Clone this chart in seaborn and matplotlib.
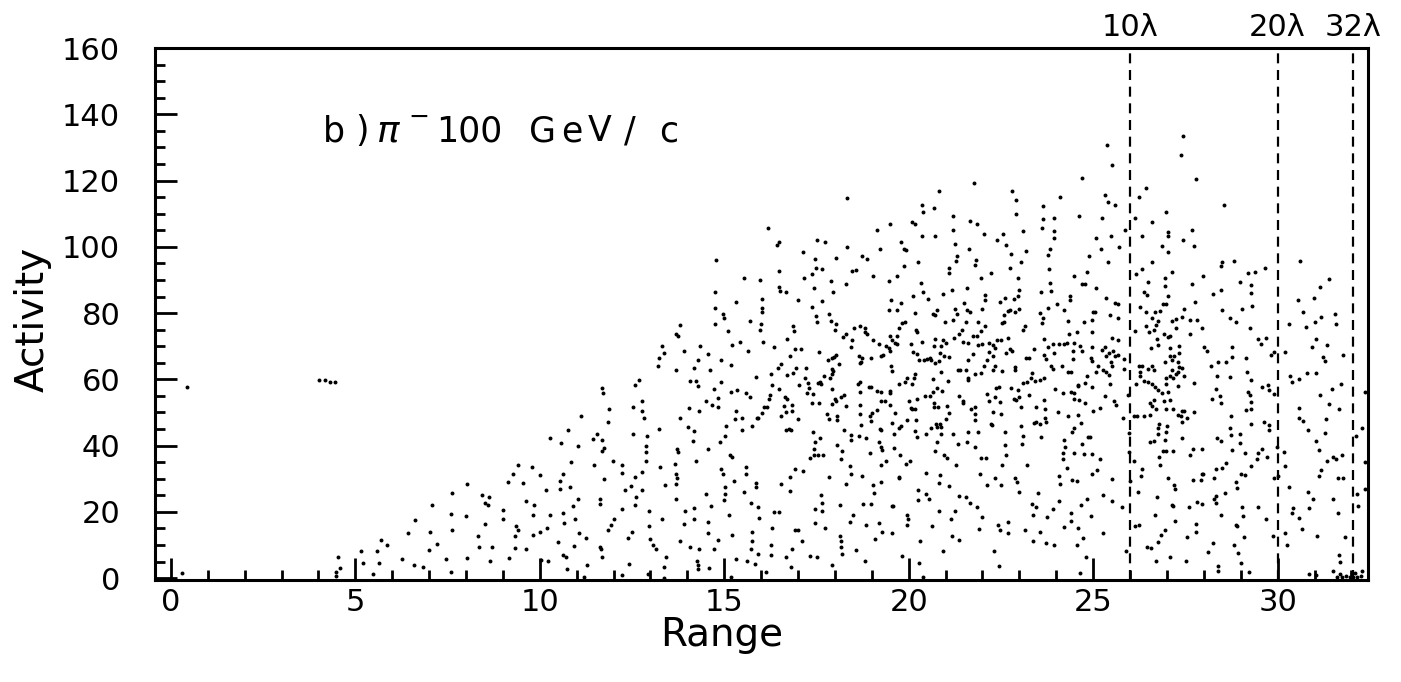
import numpy as np
import pandas as pd
import matplotlib
matplotlib.use("Agg")
import matplotlib.pyplot as plt
from matplotlib.ticker import MultipleLocator
import seaborn as sns

sns.set_theme(style="white")
plt.rcParams["font.family"] = ["DejaVu Sans"]
plt.rcParams["mathtext.fontset"] = "dejavusans"
plt.rcParams["text.color"] = "black"
plt.rcParams["axes.labelcolor"] = "black"
plt.rcParams["xtick.color"] = "black"
plt.rcParams["ytick.color"] = "black"

# (Range, Activity) pairs, band by band
pts_0_8 = [
    (0.44, 57.6), (0.31, 1.7), (4.01, 59.9), (4.19, 59.9), (4.31, 59.3), (4.44, 59.3),
    (4.53, 6.3), (4.58, 3.2), (4.48, 2.0), (4.48, 0.7), (5.16, 8.2), (5.2, 4.7),
    (5.48, 1.2), (5.58, 8.2), (5.7, 11.5), (5.85, 9.9), (5.63, 4.7), (6.26, 5.8),
    (6.44, 13.6), (6.62, 17.5), (6.59, 3.9), (6.84, 3.3), (6.99, 8.5), (7.08, 22.1),
    (7.02, 13.9), (7.22, 10.2), (7.45, 5.7), (7.63, 25.8), (7.6, 19.3), (7.63, 14.6),
    (7.6, 1.8),
]

pts_8_15 = [
    (8.02, 28.5), (8.0, 18.8), (8.02, 6.0), (8.44, 25.0), (8.51, 22.6), (8.6, 22.0),
    (8.62, 24.6), (8.51, 16.4), (8.33, 12.8), (8.35, 9.5), (8.71, 9.5), (8.65, 5.1),
    (9.01, 20.6), (9.01, 17.8), (9.14, 28.9), (9.28, 31.5), (9.41, 34.1), (9.79, 33.7),
    (9.54, 28.7), (9.64, 23.4), (9.84, 22.2), (9.81, 19.0), (9.32, 12.8), (9.36, 15.6),
    (9.41, 14.6), (9.32, 9.1), (9.17, 6.1), (9.64, 8.9), (9.82, 12.9), (10.0, 31.1),
    (10.0, 13.8), (10.17, 26.6), (10.28, 42.4), (10.28, 19.0), (10.2, 15.2), (10.22, 5.3),
    (10.02, 5.5), (10.58, 40.9), (10.62, 31.3), (10.55, 29.3), (10.55, 26.9), (10.62, 19.8),
    (10.67, 16.6), (10.49, 10.9), (10.64, 6.9), (10.71, 6.3), (10.73, 2.7), (10.76, 44.8),
    (10.82, 27.5), (10.89, 21.8), (10.96, 17.8), (10.94, 9.7), (10.84, 35.1), (11.03, 40.0),
    (11.03, 23.8), (11.07, 13.6), (11.12, 49.0), (11.25, 12.0), (11.29, 4.1), (11.21, 0.3),
    (11.43, 42.0), (11.56, 43.4), (11.48, 34.3), (11.63, 24.0), (11.63, 22.4), (11.7, 41.8),
    (11.68, 38.5), (11.74, 39.3), (11.74, 29.9), (11.7, 57.3), (11.72, 55.9), (11.63, 9.5),
    (11.66, 8.9), (11.7, 6.3), (11.88, 51.2), (11.85, 47.0), (11.86, 14.6), (11.94, 16.0),
    (11.99, 35.3), (12.02, 18.0), (12.22, 20.8), (12.24, 34.3), (12.24, 31.7), (12.3, 26.7),
    (12.46, 27.9), (12.49, 14.0), (12.39, 12.2), (12.42, 4.3), (12.22, 0.9), (12.53, 51.8),
    (12.53, 43.6), (12.59, 58.3), (12.59, 30.5), (12.57, 22.0), (12.62, 24.4), (12.69, 59.7),
    (12.78, 53.4), (12.78, 50.6), (12.82, 48.4), (12.87, 40.0), (12.87, 38.1), (12.91, 43.0),
    (12.89, 35.5), (12.78, 32.1), (12.76, 26.7), (12.96, 20.4), (12.95, 15.6), (13.0, 11.7),
    (13.07, 10.1), (13.14, 8.9), (12.93, 1.3), (13.22, 45.0), (13.22, 66.5), (13.2, 63.9),
    (13.27, 33.7), (13.32, 70.2), (13.38, 67.9), (13.32, 18.0), (13.4, 28.1), (13.43, 6.3),
    (13.36, 3.5), (13.36, 0.1), (13.69, 62.7), (13.7, 73.8), (13.74, 73.0), (13.81, 76.4),
    (13.79, 48.2), (13.67, 34.5), (13.69, 31.3), (13.72, 30.3), (13.69, 28.5), (13.69, 23.8),
    (13.72, 39.0), (13.76, 38.1), (13.79, 11.3), (13.9, 68.7), (13.94, 20.2), (13.9, 16.4),
    (14.06, 59.5), (14.05, 51.4), (14.03, 45.6), (14.08, 9.5), (14.17, 63.5), (14.19, 44.4),
    (14.15, 41.4), (14.17, 21.2), (14.19, 18.0), (14.23, 59.5), (14.24, 35.5), (14.28, 65.9),
    (14.32, 50.4), (14.3, 57.9), (14.35, 70.0), (14.32, 8.9), (14.26, 5.3), (14.3, 3.9),
    (14.3, 2.7), (14.5, 53.4), (14.5, 25.4), (14.55, 67.7), (14.55, 39.1), (14.57, 17.0),
    (14.57, 13.6), (14.59, 3.1),
]

pts_15_20 = [
    (16.18, 105.8), (16.48, 101.6), (16.43, 100.6), (17.51, 102.0), (17.73, 101.4), (17.13, 98.5),
    (14.79, 96.1), (15.53, 90.5), (15.98, 90.1), (16.48, 92.7), (16.48, 87.9), (16.5, 86.7),
    (16.68, 86.5), (17.47, 96.3), (17.49, 93.7), (17.37, 91.9), (17.65, 93.3), (17.15, 90.5),
    (17.44, 87.5), (17.01, 83.8), (18.03, 96.5), (18.32, 100.0), (18.74, 97.1), (18.88, 96.3),
    (19.15, 105.2), (19.48, 106.8), (19.22, 99.2), (18.47, 92.7), (18.56, 92.9), (19.03, 91.3),
    (18.3, 88.7), (17.89, 89.7), (17.94, 86.5), (17.64, 83.6), (17.38, 81.8), (17.49, 79.2),
    (17.51, 77.4), (17.85, 79.6), (17.89, 77.6), (18.02, 76.6), (18.0, 75.0), (14.75, 86.5),
    (14.75, 81.6), (14.75, 76.8), (14.97, 79.8), (15.0, 78.4), (15.31, 83.2), (16.03, 84.3),
    (16.03, 81.4), (16.03, 80.2), (15.99, 76.8), (15.71, 77.6), (15.96, 75.0), (15.11, 74.6),
    (15.2, 70.3), (15.42, 71.2), (15.65, 68.5), (16.05, 71.4), (16.34, 69.9), (16.7, 72.2),
    (16.86, 76.0), (16.88, 74.6), (16.93, 69.3), (17.08, 69.1), (16.79, 66.9), (17.56, 68.3),
    (17.91, 66.3), (17.98, 66.7), (18.03, 67.3), (17.82, 65.9), (18.11, 64.5), (18.23, 72.8),
    (18.29, 73.6), (18.52, 75.4), (18.67, 76.2), (18.81, 75.6), (18.81, 74.4), (19.04, 72.0),
    (18.86, 73.8), (18.47, 71.8), (18.43, 69.9), (18.65, 66.9), (18.68, 64.9), (18.7, 65.3),
    (18.74, 66.3), (18.97, 66.5), (19.26, 67.1), (19.31, 67.3), (19.19, 70.6), (19.39, 70.2),
    (19.48, 73.2), (19.55, 72.0), (19.5, 68.7), (19.64, 71.0), (19.69, 73.0), (19.69, 70.8),
    (14.91, 65.7), (14.61, 62.9), (15.17, 64.3), (14.73, 57.1), (14.91, 59.1), (14.66, 52.4),
    (14.84, 54.4), (14.82, 51.8), (15.17, 56.3), (15.35, 56.7), (15.6, 56.0), (15.71, 54.8),
    (15.87, 60.7), (15.31, 50.6), (15.49, 48.4), (15.29, 48.0), (15.06, 45.8), (15.47, 44.8),
    (15.74, 45.8), (15.89, 48.4), (15.92, 48.2), (16.01, 49.8), (16.07, 51.6), (16.16, 51.6),
    (16.21, 54.0), (16.27, 61.7), (16.23, 55.4), (16.3, 58.3), (16.48, 57.0), (16.45, 63.3),
    (16.55, 64.5), (16.7, 61.3), (16.86, 61.9), (16.95, 63.5), (17.22, 63.3), (16.66, 54.6),
    (16.7, 54.2), (16.63, 52.0), (16.84, 52.2), (16.68, 50.2), (16.84, 50.6), (16.99, 48.0),
    (16.54, 49.0), (16.75, 45.0), (16.82, 44.6), (16.68, 44.8), (17.04, 58.3), (17.19, 60.3),
    (17.26, 58.9), (17.29, 57.3), (17.24, 55.9), (17.4, 55.6), (17.55, 58.9), (17.6, 59.1),
    (17.62, 58.7), (17.71, 60.9), (17.91, 61.7), (17.93, 63.1), (17.94, 62.5), (17.87, 60.3),
    (17.93, 57.1), (17.38, 52.8), (17.58, 53.0), (17.93, 52.6), (18.0, 54.0), (18.03, 53.4),
    (18.16, 54.8), (18.25, 55.4), (17.78, 49.4), (17.85, 48.0), (18.05, 49.0), (18.05, 47.8),
    (18.3, 52.0), (18.63, 58.7), (18.68, 59.3), (18.67, 56.1), (18.68, 52.2), (18.67, 49.4),
    (18.7, 46.2), (18.92, 57.7), (18.97, 57.7), (19.13, 56.5), (19.26, 56.1), (19.48, 56.5),
    (19.5, 55.9), (19.26, 53.4), (19.37, 53.6), (19.48, 52.4), (19.15, 50.8), (19.01, 49.8),
    (18.95, 48.8), (18.97, 47.4), (19.21, 45.0), (19.24, 44.6), (19.64, 49.8), (19.73, 45.4),
    (19.55, 46.8), (18.25, 44.8), (18.43, 43.2), (18.43, 41.8), (18.65, 42.8), (18.83, 42.4),
    (19.19, 41.2), (19.24, 39.7), (19.28, 38.7), (19.59, 39.3), (19.39, 35.5), (19.26, 34.1),
    (19.03, 28.0), (19.06, 25.6), (18.99, 22.4), (19.24, 29.1), (19.57, 21.8), (19.73, 30.3),
    (19.55, 13.5), (19.28, 13.9), (19.19, 16.6), (19.1, 11.8), (18.83, 16.0), (18.76, 22.4),
    (18.74, 30.9), (18.43, 31.5), (18.41, 33.9), (18.29, 28.3), (18.5, 19.0), (18.41, 17.0),
    (18.56, 8.5), (18.81, 5.1), (18.95, 37.7), (18.2, 38.5), (18.16, 35.9), (18.05, 40.1),
    (17.85, 30.5), (18.14, 22.2), (18.14, 12.8), (18.16, 11.3), (18.16, 9.5), (18.18, 7.3),
    (17.91, 4.1), (17.74, 15.0), (17.62, 25.0), (17.64, 22.8), (17.64, 20.4), (17.47, 21.0),
    (17.47, 16.8), (17.51, 6.3), (17.33, 6.7), (17.6, 42.2), (17.47, 41.2), (17.42, 39.1),
    (17.42, 37.3), (17.33, 36.3), (17.53, 37.1), (17.67, 37.1), (17.4, 44.2), (17.13, 32.3),
    (16.91, 32.9), (16.77, 30.5), (16.77, 26.4), (17.1, 11.1), (16.93, 14.6), (16.99, 14.4),
    (16.84, 8.9), (16.68, 6.3), (16.81, 3.3), (16.55, 28.5), (16.3, 15.0), (16.27, 10.1),
    (16.34, 20.0), (16.48, 20.0), (15.94, 18.2), (15.92, 21.4), (15.72, 22.8), (15.85, 28.7),
    (15.85, 27.5), (15.54, 26.0), (15.58, 33.5), (15.58, 31.3), (15.26, 29.3), (15.02, 27.5),
    (15.02, 25.4), (15.0, 23.6), (14.91, 32.9), (14.97, 31.5), (15.2, 36.7), (15.15, 37.3),
    (15.02, 43.0), (14.88, 41.2), (14.64, 21.8), (15.13, 19.0), (15.2, 13.0), (14.84, 11.5),
    (14.71, 8.7), (15.74, 13.8), (15.76, 11.3), (15.72, 8.9), (15.31, 5.7), (15.62, 5.3),
    (15.92, 7.3), (15.83, 4.3), (16.14, 1.9), (15.18, 0.5), (16.27, 6.9), (18.32, 114.7),
]

pts_20_25 = [
    (21.77, 119.3), (20.83, 116.9), (20.36, 112.5), (20.4, 110.4), (20.69, 111.8), (20.09, 107.6),
    (20.18, 107.0), (21.21, 109.2), (21.66, 107.8), (21.84, 106.8), (20.36, 103.4), (20.72, 103.2),
    (21.21, 105.0), (19.78, 101.6), (19.87, 99.4), (19.93, 99.0), (20.25, 95.5), (19.87, 94.1),
    (19.68, 91.1), (19.46, 89.7), (21.26, 101.0), (21.64, 99.2), (22.04, 104.0), (22.38, 102.0),
    (22.56, 103.8), (22.65, 100.6), (22.8, 116.7), (22.92, 114.1), (22.92, 110.0), (23.1, 104.8),
    (23.63, 112.3), (23.63, 108.4), (23.61, 105.8), (23.95, 108.8), (23.93, 104.8), (23.93, 102.6),
    (24.1, 115.1), (24.69, 120.7), (24.62, 109.4), (23.82, 99.4), (23.77, 97.5), (23.79, 93.3),
    (23.82, 89.1), (23.86, 86.7), (23.19, 98.8), (23.05, 95.3), (22.76, 97.7), (22.74, 93.7),
    (22.96, 90.5), (23.0, 87.1), (21.82, 95.9), (21.8, 94.5), (21.3, 97.1), (21.28, 95.7),
    (21.1, 93.7), (21.08, 92.1), (21.17, 86.9), (21.57, 87.7), (21.95, 90.5), (22.24, 92.1),
    (20.34, 89.1), (20.4, 86.5), (20.11, 85.1), (20.52, 84.3), (20.92, 85.7), (22.06, 85.5),
    (22.06, 84.1), (22.6, 84.6), (22.47, 83.2), (22.85, 84.3), (22.96, 85.3), (23.59, 86.3),
    (24.38, 85.3), (24.37, 83.9), (24.47, 91.1), (24.69, 88.7), (24.84, 92.3), (19.53, 84.1),
    (19.68, 80.8), (19.78, 83.0), (19.46, 81.0), (20.18, 80.0), (20.65, 79.6), (20.72, 79.4),
    (20.78, 81.0), (20.99, 77.4), (21.19, 77.8), (21.26, 81.2), (21.3, 79.6), (21.5, 83.0),
    (21.57, 80.8), (21.66, 80.4), (21.55, 77.4), (21.89, 77.4), (22.06, 76.0), (21.95, 74.6),
    (21.99, 81.2), (22.58, 79.4), (22.69, 80.6), (22.74, 81.0), (22.87, 80.4), (23.0, 81.2),
    (22.58, 77.4), (22.54, 77.0), (23.14, 76.0), (23.1, 74.8), (23.55, 80.0), (23.63, 78.4),
    (23.61, 77.0), (23.77, 81.4), (24.01, 82.6), (24.2, 80.8), (24.33, 77.6), (24.75, 77.4),
    (24.78, 88.9), (19.82, 77.0), (19.89, 77.2), (20.2, 75.0), (20.22, 74.4), (19.73, 75.4),
    (20.05, 70.6), (20.11, 68.3), (20.22, 67.7), (20.36, 71.2), (20.42, 65.9), (20.27, 65.7),
    (20.49, 66.1), (20.58, 66.3), (20.61, 65.7), (20.72, 72.2), (20.69, 70.0), (20.88, 70.2),
    (20.85, 68.1), (20.92, 71.8), (21.01, 71.0), (20.96, 66.9), (21.1, 66.7), (20.72, 64.9),
    (20.81, 65.5), (21.23, 72.4), (21.35, 73.8), (21.44, 75.0), (21.48, 71.2), (21.61, 71.0),
    (21.75, 73.0), (21.86, 73.0), (21.88, 70.4), (22.0, 70.6), (22.17, 71.0), (22.29, 70.4),
    (22.33, 69.6), (22.17, 68.3), (22.29, 67.1), (22.13, 65.7), (22.33, 64.1), (22.04, 64.1),
    (21.97, 61.9), (21.79, 61.5), (21.61, 65.9), (21.73, 67.7), (21.55, 62.9), (21.39, 62.7),
    (21.34, 62.7), (21.61, 60.3), (21.62, 59.7), (22.38, 72.0), (22.51, 72.0), (22.69, 72.4),
    (22.65, 67.9), (22.74, 69.3), (22.8, 68.5), (23.18, 66.3), (23.25, 66.3), (23.39, 69.1),
    (23.34, 61.9), (22.87, 63.7), (22.89, 62.7), (22.54, 62.5), (22.76, 57.3), (22.96, 56.7),
    (23.09, 58.9), (23.21, 59.1), (23.32, 60.3), (22.44, 57.7), (22.29, 62.9), (23.66, 72.2),
    (23.66, 67.5), (23.73, 66.1), (23.77, 69.9), (23.92, 70.6), (23.93, 67.9), (24.08, 70.6),
    (24.2, 70.6), (24.28, 71.0), (24.35, 73.8), (24.47, 71.0), (24.46, 68.5), (24.46, 66.1),
    (24.69, 68.5), (24.64, 70.0), (24.57, 74.2), (23.86, 64.1), (23.92, 63.1), (24.15, 64.1),
    (24.33, 62.1), (24.4, 62.1), (24.58, 58.1), (24.82, 60.9), (23.66, 60.3), (23.57, 59.7),
    (23.43, 59.5), (23.97, 57.1), (24.19, 55.9), (24.4, 56.3), (24.47, 55.9), (24.6, 58.3),
    (19.53, 63.9), (19.55, 62.5), (19.46, 69.4), (19.75, 58.5), (19.89, 59.3), (19.96, 60.3),
    (20.09, 58.7), (20.18, 61.7), (20.14, 60.3), (20.02, 53.6), (20.09, 51.2), (20.18, 51.2),
    (20.22, 54.0), (20.45, 54.9), (20.58, 54.9), (20.67, 56.1), (20.76, 57.3), (20.9, 56.5),
    (21.06, 59.5), (20.88, 62.1), (20.67, 60.1), (20.69, 53.0), (20.69, 51.6), (20.79, 51.6),
    (21.05, 52.0), (21.08, 49.8), (21.01, 48.0), (20.85, 46.6), (20.74, 46.6), (20.76, 45.6),
    (20.88, 45.6), (20.87, 43.6), (20.6, 45.2), (20.47, 43.4), (20.23, 42.6), (20.16, 44.4),
    (20.2, 47.8), (20.05, 51.4), (19.95, 47.6), (19.78, 45.8), (19.59, 43.4), (19.77, 37.3),
    (19.93, 34.5), (20.04, 35.5), (19.73, 30.5), (19.55, 21.8), (19.82, 6.7), (19.95, 19.2),
    (19.98, 17.8), (19.96, 16.0), (20.25, 26.5), (20.25, 23.6), (20.47, 31.7), (20.47, 25.4),
    (20.56, 24.0), (20.31, 11.3), (20.27, 4.7), (20.38, 0.5), (20.81, 20.2), (20.63, 15.6),
    (20.85, 31.1), (20.83, 28.7), (21.1, 27.7), (20.78, 41.0), (20.72, 38.3), (20.97, 37.1),
    (21.05, 36.3), (21.21, 43.4), (21.34, 40.6), (21.28, 34.3), (21.59, 41.2), (21.79, 39.7),
    (21.61, 44.0), (21.8, 51.6), (21.79, 49.6), (21.7, 51.2), (21.48, 53.6), (21.46, 52.8),
    (21.35, 54.9), (21.8, 47.6), (21.88, 44.0), (21.95, 36.3), (22.09, 36.3), (21.93, 31.3),
    (22.11, 28.1), (21.35, 24.8), (21.55, 24.6), (21.66, 22.8), (21.86, 21.6), (21.26, 20.4),
    (21.16, 18.0), (21.17, 12.8), (21.37, 11.5), (20.94, 8.3), (21.91, 14.8), (21.98, 18.6),
    (22.31, 8.1), (22.45, 3.7), (22.43, 16.0), (22.47, 14.4), (22.69, 17.0), (22.69, 13.6),
    (22.33, 30.3), (22.51, 28.1), (22.89, 30.3), (22.94, 29.1), (23.0, 26.0), (22.54, 34.3),
    (22.63, 37.1), (22.6, 40.3), (22.6, 44.2), (22.22, 46.6), (22.27, 46.2), (22.29, 50.0),
    (22.49, 49.6), (22.47, 53.2), (22.35, 54.6), (22.36, 57.3), (22.11, 55.5), (22.17, 53.6),
    (22.85, 54.2), (22.92, 53.8), (23.05, 51.6), (23.0, 54.8), (23.05, 45.8), (23.09, 42.8),
    (23.07, 40.6), (23.21, 34.3), (23.34, 22.4), (23.46, 21.4), (23.37, 19.0), (23.5, 25.6),
    (23.57, 14.0), (23.14, 14.6), (23.36, 11.1), (23.73, 10.5), (23.95, 9.9), (23.92, 20.8),
    (23.75, 18.4), (23.45, 51.8), (23.46, 47.0), (23.55, 46.4), (23.7, 48.2), (23.72, 47.0),
    (23.59, 42.6), (23.7, 51.2), (23.68, 53.8), (24.06, 50.0), (24.2, 41.8), (24.24, 39.7),
    (24.19, 37.7), (24.19, 35.9), (24.29, 33.1), (24.42, 29.5), (24.57, 29.3), (24.08, 30.9),
    (24.11, 28.5), (24.08, 23.2), (24.4, 19.8), (24.4, 17.4), (24.22, 15.4), (24.58, 15.2),
    (24.73, 12.1), (24.57, 9.9), (24.8, 6.3), (24.64, 1.5), (24.84, 23.8), (24.66, 22.2),
    (24.49, 37.7), (24.75, 37.5), (24.71, 40.6), (24.85, 42.6), (24.42, 44.2), (24.49, 45.2),
    (24.67, 46.8), (24.58, 49.2), (24.33, 48.8), (24.49, 54.0), (24.62, 53.8), (24.78, 52.8),
    (24.78, 58.9), (23.41, 46.8), (23.25, 55.4),
]

pts_25_33 = [
    (25.38, 130.8), (25.5, 124.7), (27.43, 133.4), (27.38, 127.8), (27.79, 120.5), (26.42, 117.7),
    (26.24, 115.1), (25.31, 115.5), (25.41, 113.5), (25.58, 112.6), (28.54, 112.6), (26.97, 110.6),
    (25.23, 108.6), (26.14, 108.6), (26.6, 107.6), (25.86, 105.2), (25.49, 103.4), (25.09, 102.6),
    (26.32, 103.2), (27.04, 104.6), (27.04, 103.2), (27.69, 105.0), (27.43, 102.2), (26.86, 100.2),
    (27.72, 100.2), (25.7, 99.8), (25.2, 99.2), (27.04, 98.4), (24.89, 97.1), (25.41, 95.5),
    (26.6, 95.3), (28.48, 95.5), (28.46, 94.1), (28.81, 95.7), (30.61, 95.7), (26.32, 93.3),
    (26.15, 91.9), (27.15, 92.5), (27.99, 91.3), (28.99, 89.5), (29.2, 92.1), (29.4, 92.3),
    (29.27, 88.5), (29.67, 93.7), (31.4, 90.3), (31.15, 87.9), (26.5, 89.5), (26.96, 90.5),
    (26.96, 88.1), (27.69, 88.7), (25.07, 87.5), (26.37, 86.3), (26.46, 85.5), (27.04, 85.3),
    (28.25, 85.7), (28.46, 87.1), (29.27, 86.1), (25.34, 84.7), (25.59, 83.0), (25.68, 82.8),
    (26.26, 81.8), (26.97, 82.8), (26.89, 82.6), (27.45, 81.2), (27.76, 83.4), (28.48, 80.8),
    (29.04, 81.2), (29.31, 82.2), (30.56, 83.8), (30.99, 84.5), (30.7, 80.4), (31.55, 79.6),
    (25.0, 80.4), (25.05, 80.2), (24.96, 78.0), (25.47, 79.4), (25.67, 78.6), (26.42, 80.2),
    (26.68, 80.2), (26.8, 80.6), (26.77, 77.6), (26.69, 76.4), (26.6, 78.6), (27.24, 78.2),
    (27.14, 77.6), (27.42, 78.8), (27.63, 78.0), (27.81, 78.0), (27.96, 75.4), (28.7, 78.4),
    (28.86, 77.4), (29.24, 75.4), (30.32, 76.6), (30.76, 75.8), (31.01, 77.4), (31.17, 78.8),
    (31.57, 76.8), (25.5, 72.4), (24.96, 74.2), (25.67, 71.8), (26.14, 74.6), (26.42, 76.0),
    (26.51, 74.2), (26.64, 75.0), (26.73, 72.2), (26.57, 69.4), (26.77, 70.4), (27.02, 72.8),
    (27.09, 73.2), (26.91, 73.6), (27.09, 69.5), (27.34, 70.0), (27.63, 73.6), (27.24, 75.4),
    (28.01, 69.7), (28.08, 68.5), (28.77, 69.7), (29.47, 72.2), (29.56, 70.6), (29.69, 72.4),
    (29.82, 67.5), (29.89, 68.3), (30.21, 68.3), (30.93, 69.7), (31.03, 72.2), (31.33, 70.4),
    (31.22, 66.7), (31.28, 65.5), (31.76, 67.3), (24.98, 69.9), (24.93, 66.5), (24.98, 65.5),
    (25.25, 68.9), (25.31, 69.7), (25.36, 67.0), (25.43, 68.0), (25.54, 68.5), (25.59, 67.0),
    (25.68, 67.3), (25.49, 65.3), (25.83, 66.1), (25.14, 63.9), (25.27, 62.9), (25.36, 62.1),
    (25.43, 61.3), (25.83, 63.1), (25.5, 63.9), (25.07, 62.3), (24.98, 57.7), (25.18, 51.4),
    (25.0, 50.4), (25.32, 55.0), (25.45, 58.7), (25.56, 53.4), (25.63, 52.2), (25.81, 48.2),
    (25.95, 55.4), (26.15, 58.7), (26.24, 64.1), (26.32, 63.9), (26.26, 62.1), (26.28, 61.1),
    (26.48, 63.1), (26.6, 63.9), (26.66, 62.7), (26.37, 59.5), (26.5, 59.1), (26.6, 58.5),
    (26.68, 57.7), (26.77, 56.7), (26.86, 55.9), (26.98, 58.5), (26.97, 60.3), (27.09, 61.1),
    (27.14, 62.9), (27.16, 60.5), (27.25, 61.5), (27.31, 62.3), (27.34, 63.7), (27.4, 63.5),
    (27.45, 60.9), (27.29, 65.3), (27.13, 65.7), (26.95, 65.3), (27.09, 67.0), (27.2, 67.1),
    (27.34, 67.9), (27.72, 58.9), (27.31, 57.9), (27.04, 56.2), (27.07, 53.8), (26.91, 53.4),
    (26.66, 53.8), (26.53, 52.8), (26.6, 52.0), (26.71, 51.0), (26.55, 49.2), (26.37, 48.8),
    (26.19, 48.8), (26.1, 49.0), (26.98, 51.2), (27.16, 51.2), (27.29, 49.2), (27.38, 48.8),
    (27.47, 50.6), (27.54, 48.2), (27.74, 50.0), (27.4, 50.6), (27.42, 47.0), (26.77, 45.4),
    (26.78, 46.4), (27.0, 46.0), (26.97, 44.2), (26.75, 43.4), (26.55, 41.1), (26.64, 41.3),
    (26.95, 41.8), (27.4, 42.4), (27.71, 38.9), (26.89, 38.4), (26.97, 38.4), (27.16, 38.5),
    (26.78, 36.5), (26.8, 34.3), (27.63, 37.3), (27.94, 39.1), (27.96, 31.3), (27.92, 29.7),
    (27.71, 29.7), (27.04, 30.3), (27.2, 28.1), (27.23, 26.9), (26.73, 24.4), (26.3, 30.9),
    (26.68, 19.2), (27.14, 22.2), (27.16, 21.8), (27.6, 21.4), (27.22, 17.4), (27.78, 16.4),
    (27.79, 13.9), (27.54, 12.4), (26.95, 14.4), (26.84, 13.1), (26.77, 10.9), (26.24, 16.0),
    (26.14, 15.8), (26.46, 9.5), (26.57, 9.1), (26.69, 5.1), (27.07, 6.5), (27.51, 5.1),
    (28.1, 7.9), (28.26, 10.5), (28.39, 3.7), (28.39, 2.1), (28.81, 10.0), (28.93, 7.5),
    (29.0, 4.5), (29.22, 1.9), (29.09, 12.5), (28.86, 16.0), (29.07, 18.8), (29.04, 21.6),
    (28.32, 22.6), (28.28, 24.0), (28.46, 19.2), (28.9, 15.8), (28.57, 25.6), (28.9, 27.1),
    (28.88, 28.9), (29.0, 31.3), (29.47, 21.4), (29.69, 17.8), (29.87, 12.7), (30.2, 13.5),
    (30.25, 9.9), (30.32, 27.5), (30.41, 21.2), (30.38, 19.8), (30.59, 18.2), (30.66, 14.7),
    (30.83, 26.1), (30.97, 24.0), (30.84, 21.2), (31.08, 12.7), (31.49, 24.0), (31.64, 19.6),
    (31.78, 30.1), (31.82, 12.5), (31.67, 6.9), (31.69, 4.9), (31.49, 2.3), (30.84, 1.3),
    (31.03, 1.1), (32.18, 21.8), (32.14, 25.4), (32.36, 27.0), (32.36, 35.1), (32.3, 45.2),
    (32.36, 56.2), (32.12, 43.0), (31.64, 30.1), (31.35, 35.5), (31.49, 36.5), (31.57, 35.9),
    (31.75, 37.3), (31.17, 32.5), (31.13, 30.7), (31.12, 38.7), (31.04, 41.5), (31.28, 43.8),
    (30.83, 44.8), (30.7, 47.4), (30.57, 48.4), (30.57, 51.4), (31.15, 55.4), (31.39, 52.6),
    (31.66, 51.0), (31.48, 57.1), (31.71, 58.7), (31.31, 48.0), (30.34, 60.9), (30.38, 59.3),
    (30.57, 60.1), (30.79, 61.9), (31.03, 61.9), (29.89, 55.6), (29.98, 39.7), (30.16, 38.0),
    (30.21, 33.9), (29.89, 30.1), (30.01, 30.7), (29.58, 39.1), (29.71, 36.5), (29.44, 36.1),
    (29.47, 37.9), (29.29, 33.9), (29.11, 37.9), (29.11, 31.1), (29.76, 44.6), (29.78, 46.2),
    (29.28, 46.4), (29.64, 47.2), (28.99, 43.4), (28.99, 40.8), (28.77, 38.7), (28.61, 34.9),
    (28.48, 33.1), (28.32, 32.9), (28.36, 42.2), (28.46, 41.3), (28.73, 43.2), (27.99, 31.3),
    (28.28, 30.3), (28.32, 24.8), (27.94, 22.4), (27.81, 23.0), (28.23, 54.2), (28.43, 55.0),
    (28.46, 52.8), (28.32, 57.1), (28.37, 60.9), (28.7, 60.7), (28.19, 64.1), (28.39, 65.1),
    (28.59, 65.1), (28.75, 66.7), (29.15, 66.3), (29.18, 62.3), (29.28, 59.7), (29.2, 56.1),
    (29.24, 55.4), (29.28, 53.2), (29.13, 50.8), (29.29, 51.2), (29.58, 57.7), (29.74, 58.3),
    (29.78, 56.7), (28.73, 49.0), (28.72, 45.2), (25.96, 43.8), (25.96, 38.0), (24.91, 42.5),
    (24.96, 37.5), (25.18, 36.1), (24.98, 31.5), (25.11, 32.5), (25.5, 29.9), (25.27, 25.0),
    (25.52, 23.4), (25.77, 21.6), (24.93, 18.8), (25.27, 13.6), (25.9, 8.1), (26.0, 29.3),
    (26.32, 32.9), (26.21, 25.9), (26.12, 35.3),
]

# pile of hits sitting on the axis just left of 32 lambda
pts_tail = [
    (31.6, 0.5), (31.75, 0.4), (31.85, 0.6), (31.95, 0.3), (32.05, 0.5), (32.15, 0.4),
    (32.25, 0.7), (31.7, 1.2), (32.1, 1.5), (32.3, 2.2),
]

lambda_pos = [26.0, 30.0, 32.05]
lambda_txt = ["10λ", "20λ", "32λ"]


def build_frame():
    rows = pts_0_8 + pts_8_15 + pts_15_20 + pts_20_25 + pts_25_33 + pts_tail
    return pd.DataFrame(rows, columns=["Range", "Activity"])


def main():
    df = build_frame()

    fig = plt.figure(figsize=(14.01, 6.82), dpi=100)
    ax = fig.add_axes([155 / 1401, 102 / 682, 1213 / 1401, 532 / 682])

    sns.scatterplot(data=df, x="Range", y="Activity", ax=ax, color="black",
                    s=8, linewidth=0, marker="o")

    for xv, lab in zip(lambda_pos, lambda_txt):
        ax.axvline(xv, color="black", lw=1.6, dashes=(4.5, 3.0), zorder=3)
        ax.text(xv, 163.5, lab, ha="center", va="baseline", fontsize=22,
                clip_on=False)

    ax.set_xlim(-0.43, 32.45)
    ax.set_ylim(-0.55, 160)
    ax.set_xticks(range(0, 31, 5))
    ax.set_yticks(range(0, 161, 20))
    ax.xaxis.set_minor_locator(MultipleLocator(1))
    ax.yaxis.set_minor_locator(MultipleLocator(5))
    ax.tick_params(which="both", direction="in", bottom=True, left=True,
                   top=False, right=False, colors="black", width=2)
    ax.tick_params(which="major", length=15.5, labelsize=22)
    ax.tick_params(axis="x", which="major", pad=6)
    ax.tick_params(axis="y", which="major", pad=25)
    ax.tick_params(which="minor", length=7)
    for sp in ax.spines.values():
        sp.set_color("black")
        sp.set_linewidth(2.2)

    ax.set_xlabel("Range", fontsize=28)
    ax.set_ylabel("Activity", fontsize=28)
    ax.xaxis.set_label_coords(0.467, -0.068)
    ax.yaxis.set_label_coords(-0.085, 0.49)

    # panel label, glyphs spaced out like the original lettering
    base = 131.8
    ax.text(4.11, base, "b", fontsize=25, va="baseline")
    ax.text(5.01, base, ")", fontsize=25, va="baseline")
    ax.text(5.55, base, r"$\pi$", fontsize=27, va="baseline")
    ax.text(6.45, 139.2, "−", fontsize=18, va="center")
    ax.text(7.2, base, "100", fontsize=25, va="baseline")
    for xv, ch in zip([9.72, 10.58, 11.29, 12.29, 13.23], ["G", "e", "V", "/", "c"]):
        ax.text(xv, base, ch, fontsize=25, va="baseline")

    fig.savefig("out.png", dpi=100, facecolor="white")
    plt.close(fig)


if __name__ == "__main__":
    main()
